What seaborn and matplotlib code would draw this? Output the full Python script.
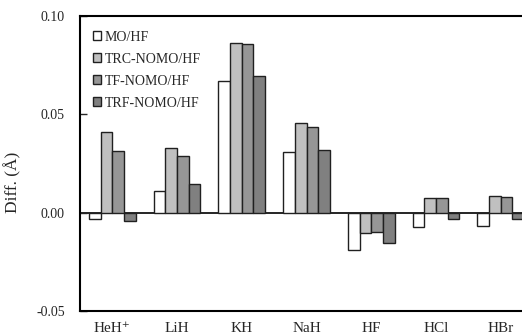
import numpy as np
import pandas as pd
import matplotlib
matplotlib.use("Agg")
import matplotlib.pyplot as plt
import seaborn as sns
from matplotlib.patches import Patch

categories = ["HeH⁺", "LiH", "KH", "NaH", "HF", "HCl", "HBr"]
series = ["MO/HF", "TRC-NOMO/HF", "TF-NOMO/HF", "TRF-NOMO/HF"]
mo_hf = [-0.0030, 0.0110, 0.0670, 0.0311, -0.0189, -0.0073, -0.0068]
trc_nomo = [0.0408, 0.0327, 0.0862, 0.0457, -0.0102, 0.0077, 0.0087]
tf_nomo = [0.0313, 0.0290, 0.0857, 0.0437, -0.0097, 0.0077, 0.0082]
trf_nomo = [-0.0043, 0.0144, 0.0695, 0.0321, -0.0153, -0.0030, -0.0030]
yticks = [-0.05, 0.00, 0.05, 0.10]
ytick_labels = ["-0.05", "0.00", "0.05", "0.10"]

colors = ["#FFFFFF", "#C0C0C0", "#969696", "#808080"]

rows = []
for s, vals in zip(series, [mo_hf, trc_nomo, tf_nomo, trf_nomo]):
    for c, v in zip(categories, vals):
        rows.append({"cat": c, "series": s, "val": v})
df = pd.DataFrame(rows)

sns.set_style("white")
plt.rcParams["font.family"] = ["Liberation Serif", "DejaVu Serif"]

fig = plt.figure(figsize=(5.22, 3.34), dpi=100)
W, H = 522, 334
left, right, top, bottom = 80, 533, 16, 311
ax = fig.add_axes([left / W, 1 - bottom / H, (right - left) / W, (bottom - top) / H])

sns.barplot(data=df, x="cat", y="val", hue="series", order=categories,
            hue_order=series, palette=colors, width=0.72, ax=ax,
            edgecolor="#202020", linewidth=1.0, legend=False, saturation=1)

ax.axhline(0, color="black", lw=1.2, zorder=0.5)
ax.set_ylim(-0.05, 0.10)
ax.set_xlim(-0.5, 6.5)
ax.set_yticks(yticks)
ax.set_yticklabels(ytick_labels, fontsize=10)
ax.tick_params(axis="y", direction="in", length=5, width=1, left=True, pad=11)
ax.tick_params(axis="x", length=0, labelsize=11, pad=8)
ax.set_xlabel("")
ax.set_ylabel("Diff. (Å)", fontsize=12.5)
ax.yaxis.set_label_coords(-0.130, 0.437)
for sp in ["left", "top", "bottom"]:
    ax.spines[sp].set_color("black")
    ax.spines[sp].set_linewidth(1.5)
ax.spines["right"].set_visible(False)

handles = [Patch(facecolor=c, edgecolor="#202020", linewidth=1.0) for c in colors]
ax.legend(handles, series, loc="upper left", frameon=False, fontsize=10,
          handlelength=0.6, handleheight=0.6, handletextpad=0.3,
          labelspacing=0.65, bbox_to_anchor=(0.0, 0.993), borderaxespad=0.5)

fig.savefig("out.png", dpi=100)
